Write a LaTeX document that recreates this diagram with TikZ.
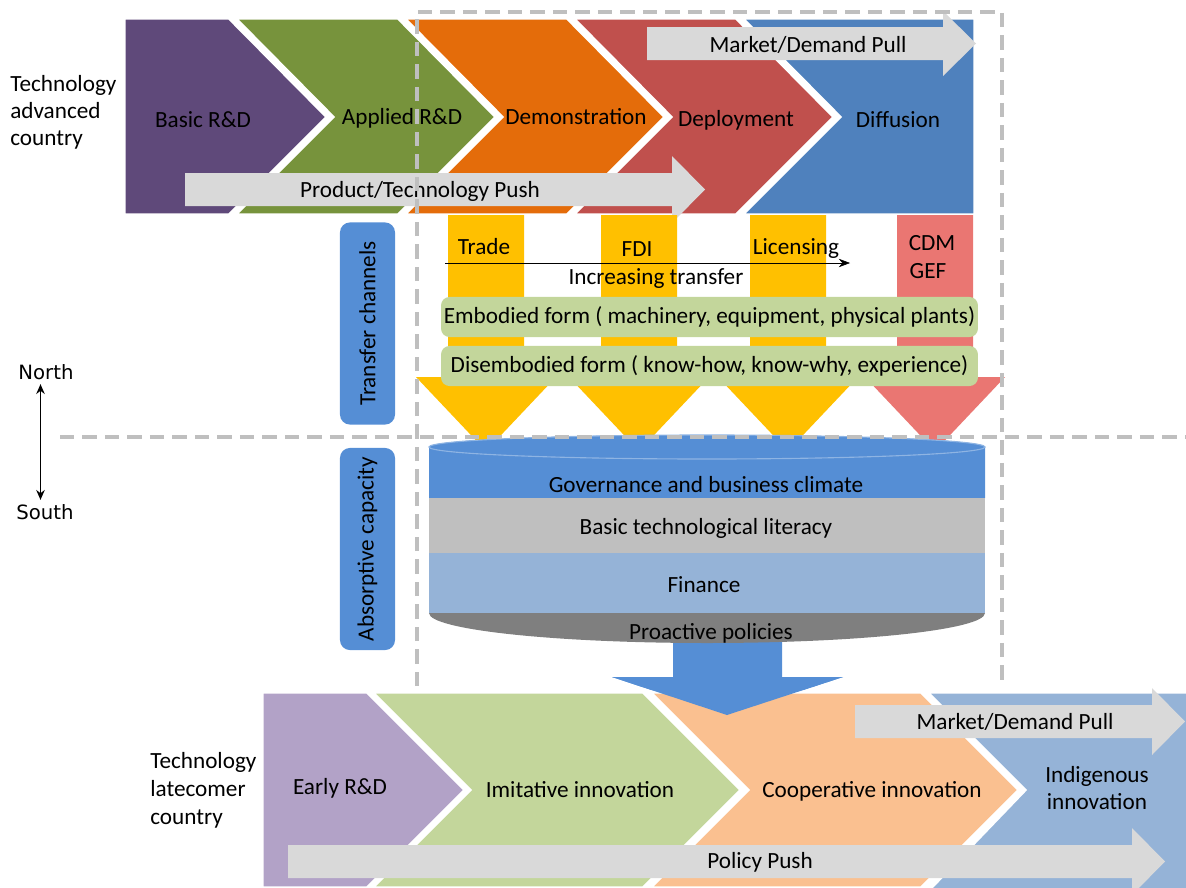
\documentclass[tikz,border=0pt]{standalone}
\usepackage{fontspec}
\setmainfont{Carlito}
\newfontfamily\compassfont{DejaVu Sans}
\usetikzlibrary{arrows.meta}

\definecolor{rdpurple}{RGB}{95,73,122}
\definecolor{rdgreen}{RGB}{119,147,60}
\definecolor{rdorange}{RGB}{228,108,10}
\definecolor{rdred}{RGB}{192,80,77}
\definecolor{rdblue}{RGB}{79,129,189}
\definecolor{lilac}{RGB}{178,162,199}
\definecolor{sage}{RGB}{195,214,155}
\definecolor{peach}{RGB}{250,192,144}
\definecolor{skyblue}{RGB}{149,179,215}
\definecolor{chanblue}{RGB}{85,142,213}
\definecolor{rimblue}{RGB}{142,180,227}
\definecolor{pushgray}{RGB}{217,217,217}
\definecolor{amber}{RGB}{255,192,0}
\definecolor{salmon}{RGB}{234,118,114}
\definecolor{guidegray}{RGB}{191,191,191}
\definecolor{literacygray}{RGB}{191,191,191}
\definecolor{policygray}{RGB}{127,127,127}

\begin{document}
\begin{tikzpicture}[x=0.025cm, y=-0.025cm,
    every node/.style={font=\fontsize{16.5}{19.5}\selectfont},
    stage/.style={draw=white, line width=2.2pt},
    pusharrow/.style={fill=pushgray},
    guide/.style={guidegray, line width=2.3pt, dash pattern=on 10pt off 6pt},
    formbox/.style={fill=sage, rounded corners=6pt, minimum width=13.42cm, minimum height=1cm, inner sep=0pt},
    sidebox/.style={fill=chanblue, rounded corners=7pt, rotate=90, minimum width=5.05cm, minimum height=1.375cm, inner sep=0pt}]
    \clip (0,0) rectangle (1186,888);

    % Advanced country stages
    \filldraw[stage, fill=rdpurple] (124,18) -- (229,18) -- (327,117) -- (229,215) -- (124,215) -- cycle;
    \foreach \x/\col in {235/rdgreen, 404/rdorange, 573/rdred} {
        \filldraw[stage, fill=\col] (\x,18) -- ++(163,0) -- ++(98,99) -- ++(-98,98) -- ++(-163,0) -- ++(98,-98) -- cycle;
    }
    \filldraw[stage, fill=rdblue] (742,18) -- (975,18) -- (975,215) -- (742,215) -- (840,117) -- cycle;

    \node (basic) at (203,120) {Basic R\&D};
    \node (applied) at (402,118) {Applied R\&D};
    \node (demo) at (576,117) {Demonstration};
    \node (deploy) at (736,120) {Deployment};
    \node (diffusion) at (898,120) {Diffusion};

    % Pull and push arrows on top
    \fill[pusharrow] (647,27) -- (943,27) -- (943,11) -- (976,43.5) -- (943,76) -- (943,60) -- (647,60) -- cycle;
    \node (pulltop) at (808,45) {Market/Demand Pull};
    \fill[pusharrow] (185,173) -- (672,173) -- (672,156) -- (705,189.5) -- (672,223) -- (672,206) -- (185,206) -- cycle;
    \node (pushtop) at (420,191) {Product/Technology Push};

    \node at (10,112) [anchor=west, align=left, inner sep=0pt, font=\fontsize{16.5}{19.2}\selectfont] (advanced) {Technology\\advanced\\country};

    % Transfer channels
    \foreach \x/\col in {486/amber, 639/amber, 788/amber, 935/salmon} {
        \fill[\col] ({\x-38},215) -- ({\x+38},215) -- ({\x+38},377) -- ({\x+70},377) -- (\x,451) -- ({\x-70},377) -- ({\x-38},377) -- cycle;
    }
    \node (trade) at (484,247) {Trade};
    \node (fdi) at (637,249) {FDI};
    \node (licensing) at (796,249) {Licensing};
    \node (cdm) at (932,243) {CDM};
    \node (gef) at (928,271) {GEF};

    \coordinate (incstart) at (445,263);
    \coordinate (incend) at (850,263);
    \draw[-{Stealth[length=8pt,width=6pt]}] (incstart) -- (incend);
    \node (increasing) at (656,279) {Increasing transfer};

    \node[formbox] (embodied) at (709.5,317) {Embodied form ( machinery, equipment, physical plants)};
    \node[formbox] (disembodied) at (709.5,366) {Disembodied form ( know-how, know-why, experience)};

    \node[sidebox] (channels) at (367.5,323.5) {Transfer channels};
    \node[sidebox] (absorptive) at (367.5,549) {Absorptive capacity};

    % Arrow down to latecomer
    \fill[chanblue] (673,620) -- (782,620) -- (782,677) -- (843,677) -- (727,715) -- (612,677) -- (673,677) -- cycle;

    % Absorptive capacity cylinder
    \fill[chanblue] (429,447) -- (429,498) -- (985,498) -- (985,447) arc (0:-180:278 and 12) -- cycle;
    \filldraw[fill=chanblue, draw=rimblue, line width=0.8pt] (707,447) ellipse [x radius=278, y radius=12];
    \fill[literacygray] (429,498) rectangle (985,553);
    \fill[skyblue] (429,553) rectangle (985,613);
    \fill[policygray] (429,613) -- (985,613) arc (0:180:278 and 30) -- cycle;

    \node (governance) at (706,485) {Governance and business climate};
    \node (literacy) at (706,528) {Basic technological literacy};
    \node (finance) at (704,585) {Finance};
    \node (proactive) at (711,633) {Proactive policies};

    % Latecomer country stages
    \filldraw[stage, fill=lilac] (262,692) -- (367,692) -- (465,790) -- (367,888) -- (262,888) -- cycle;
    \foreach \x/\col in {372/sage, 650/peach} {
        \filldraw[stage, fill=\col] (\x,692) -- ++(271,0) -- ++(98,98) -- ++(-98,98) -- ++(-271,0) -- ++(98,-98) -- cycle;
    }
    \filldraw[stage, fill=skyblue] (927,692) -- (1190,692) -- (1190,892) -- (927,892) -- (1025,790) -- cycle;

    % redraw arrow tip over the stages
    \fill[chanblue] (612,677) -- (843,677) -- (727,715) -- cycle;

    \node (early) at (340,788) {Early R\&D};
    \node (imitative) at (580,790) {Imitative innovation};
    \node (cooperative) at (872,791) {Cooperative innovation};
    \node[align=center] (indigenous) at (1097,788) {Indigenous\\innovation};

    \fill[pusharrow] (855,705) -- (1152,705) -- (1152,688) -- (1185,721.5) -- (1152,755) -- (1152,738) -- (855,738) -- cycle;
    \node (pullbottom) at (1015,722) {Market/Demand Pull};
    \fill[pusharrow] (288,845) -- (1132,845) -- (1132,828) -- (1165,861.5) -- (1132,895) -- (1132,878) -- (288,878) -- cycle;
    \node (policypush) at (760,862) {Policy Push};

    \node at (150,790) [anchor=west, align=left, inner sep=0pt, font=\fontsize{16.5}{19.9}\selectfont] (latecomer) {Technology\\latecomer\\country};

    % Dashed guides
    \draw[guide] (417,686) -- (417,12) -- (1002,12) -- (1002,686);
    \draw[guide] (60,437) -- (1186,437);

    % North and South
    \node[font=\compassfont\fontsize{14}{16}\selectfont, inner sep=1pt] (north) at (46,372) {North};
    \node[font=\compassfont\fontsize{14}{16}\selectfont, inner sep=1pt] (south) at (45,512) {South};
    \coordinate (axis) at (40.5,0);
    \draw[{Stealth[length=7pt,width=6pt]}-{Stealth[length=7pt,width=6pt]}, line width=1.4pt] ([yshift=-2pt]north.south -| axis) -- ([yshift=2pt]south.north -| axis);
\end{tikzpicture}
\end{document}
